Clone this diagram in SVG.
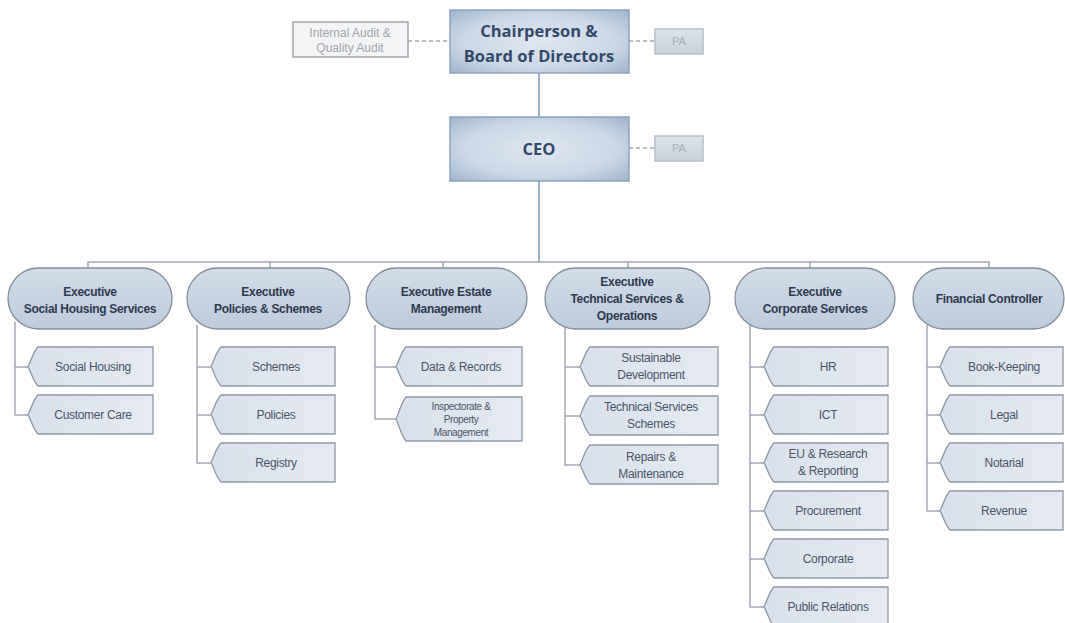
<svg xmlns="http://www.w3.org/2000/svg" width="1065" height="623" viewBox="0 0 1065 623">
<defs>
<radialGradient id="topg" cx="50%" cy="50%" r="70%">
<stop offset="0" stop-color="#dfe8f2"/><stop offset="0.6" stop-color="#cbd8e7"/><stop offset="1" stop-color="#9fb4cd"/>
</radialGradient>
<linearGradient id="pillg" x1="0" y1="0" x2="0" y2="1">
<stop offset="0" stop-color="#d3dde9"/><stop offset="1" stop-color="#bccadb"/>
</linearGradient>
<linearGradient id="subg" x1="0" y1="0" x2="1" y2="0">
<stop offset="0" stop-color="#d9e0eb"/><stop offset="1" stop-color="#e6ebf2"/>
</linearGradient>
<linearGradient id="pag" x1="0" y1="0" x2="0" y2="1">
<stop offset="0" stop-color="#dde3ea"/><stop offset="1" stop-color="#c9d1da"/>
</linearGradient>
</defs>
<style>
.top{fill:url(#topg);stroke:#8ea3bd;stroke-width:1.5}
.tt{font-family:"Open Sans","Liberation Sans",sans-serif;font-weight:bold;font-size:16.5px;fill:#34496a;text-anchor:middle}
.aud{fill:#f3f4f6;stroke:#a3a7ad;stroke-width:1.5}
.at{font-family:"Liberation Sans",sans-serif;font-size:12px;fill:#a2a6ac;text-anchor:middle}
.pa{fill:url(#pag);stroke:#b7bfc8;stroke-width:1.5}
.pat{font-family:"Liberation Sans",sans-serif;font-size:11px;fill:#a8b0ba;text-anchor:middle}
.pill{fill:url(#pillg);stroke:#858e9b;stroke-width:1.3}
.pt{font-family:"Liberation Sans",sans-serif;font-weight:bold;font-size:12px;fill:#2e3a50;text-anchor:middle;letter-spacing:-0.3px}
.sub{fill:url(#subg);stroke:#9099a6;stroke-width:1.3}
.st{font-family:"Liberation Sans",sans-serif;font-size:12px;fill:#4b5568;text-anchor:middle;letter-spacing:-0.3px}
.sts{font-family:"Liberation Sans",sans-serif;font-size:10px;fill:#4b5568;text-anchor:middle;letter-spacing:-0.4px}
.ln{fill:none;stroke:#a1a8b2;stroke-width:1.5}
.bl{fill:none;stroke:#8fa8c8;stroke-width:1.8}
.ds{fill:none;stroke:#a6abb2;stroke-width:1.5;stroke-dasharray:4,3}
</style>
<g id="connectors">
<line class="ds" x1="408" y1="41" x2="450" y2="41"/>
<line class="ds" x1="629" y1="41" x2="655" y2="41"/>
<line class="ds" x1="629" y1="148" x2="655" y2="148"/>
<line class="bl" x1="539" y1="73" x2="539" y2="117"/>
<line class="bl" x1="539" y1="181" x2="539" y2="262"/>
<polyline class="ln" points="88,268 88,262 989,262 989,268"/>
<line class="ln" x1="270" y1="262" x2="270" y2="268"/>
<line class="ln" x1="443" y1="262" x2="443" y2="268"/>
<line class="ln" x1="628" y1="262" x2="628" y2="268"/>
<line class="ln" x1="810" y1="262" x2="810" y2="268"/>
<polyline class="ln" points="15,322 15,415 28,415"/><line class="ln" x1="15" y1="367" x2="28" y2="367"/>
<polyline class="ln" points="197,325 197,463 211,463"/><line class="ln" x1="197" y1="367" x2="211" y2="367"/><line class="ln" x1="197" y1="415" x2="211" y2="415"/>
<polyline class="ln" points="375,325 375,419 396,419"/><line class="ln" x1="375" y1="367" x2="396" y2="367"/>
<polyline class="ln" points="565,325 565,465 580,465"/><line class="ln" x1="565" y1="367" x2="580" y2="367"/><line class="ln" x1="565" y1="416" x2="580" y2="416"/>
<polyline class="ln" points="750,325 750,607 764,607"/><line class="ln" x1="750" y1="367" x2="764" y2="367"/><line class="ln" x1="750" y1="415" x2="764" y2="415"/><line class="ln" x1="750" y1="463" x2="764" y2="463"/><line class="ln" x1="750" y1="511" x2="764" y2="511"/><line class="ln" x1="750" y1="559" x2="764" y2="559"/>
<polyline class="ln" points="927,325 927,511 940,511"/><line class="ln" x1="927" y1="367" x2="940" y2="367"/><line class="ln" x1="927" y1="415" x2="940" y2="415"/><line class="ln" x1="927" y1="463" x2="940" y2="463"/>
</g>
<g id="n-audit"><rect class="aud" x="293" y="22" width="115" height="35"/><text class="at" x="350" y="37">Internal Audit &amp;</text><text class="at" x="350" y="52">Quality Audit</text></g>
<g id="n-chair"><rect class="top" x="450" y="10" width="179" height="63"/><text class="tt" x="539" y="37">Chairperson &amp;</text><text class="tt" x="539" y="62">Board of Directors</text></g>
<g id="n-pa1"><rect class="pa" x="655" y="29" width="48" height="25"/><text class="pat" x="679" y="45">PA</text></g>
<g id="n-ceo"><rect class="top" x="450" y="117" width="179" height="64"/><text class="tt" x="539" y="155">CEO</text></g>
<g id="n-pa2"><rect class="pa" x="655" y="136" width="48" height="25"/><text class="pat" x="679" y="152">PA</text></g>

<g id="n-e1"><rect class="pill" x="8" y="268" width="164" height="61" rx="30.5"/><text class="pt" x="90" y="296">Executive</text><text class="pt" x="90" y="313">Social Housing Services</text></g>
<g id="n-e2"><rect class="pill" x="187" y="268" width="163" height="61" rx="30.5"/><text class="pt" x="268" y="296">Executive</text><text class="pt" x="268" y="313">Policies &amp; Schemes</text></g>
<g id="n-e3"><rect class="pill" x="366" y="268" width="161" height="61" rx="30.5"/><text class="pt" x="446" y="296">Executive Estate</text><text class="pt" x="446" y="313">Management</text></g>
<g id="n-e4"><rect class="pill" x="545" y="268" width="165" height="61" rx="30.5"/><text class="pt" x="627" y="286">Executive</text><text class="pt" x="627" y="303">Technical Services &amp;</text><text class="pt" x="627" y="320">Operations</text></g>
<g id="n-e5"><rect class="pill" x="735" y="268" width="160" height="61" rx="30.5"/><text class="pt" x="815" y="296">Executive</text><text class="pt" x="815" y="313">Corporate Services</text></g>
<g id="n-e6"><rect class="pill" x="913" y="268" width="151" height="61" rx="30.5"/><text class="pt" x="989" y="303">Financial Controller</text></g>

<g id="n-s11"><path class="sub" d="M38,347 H153 V386 H38 C33,381 31,372 28,366.5 C31,361 33,352 38,347 Z"/><text class="st" x="93" y="371">Social Housing</text></g>
<g id="n-s12"><path class="sub" d="M38,395 H153 V434 H38 C33,429 31,420 28,414.5 C31,409 33,400 38,395 Z"/><text class="st" x="93" y="419">Customer Care</text></g>

<g id="n-s21"><path class="sub" d="M221,347 H335 V386 H221 C216,381 214,372 211,366.5 C214,361 216,352 221,347 Z"/><text class="st" x="276" y="371">Schemes</text></g>
<g id="n-s22"><path class="sub" d="M221,395 H335 V434 H221 C216,429 214,420 211,414.5 C214,409 216,400 221,395 Z"/><text class="st" x="276" y="419">Policies</text></g>
<g id="n-s23"><path class="sub" d="M221,443 H335 V482 H221 C216,477 214,468 211,462.5 C214,457 216,448 221,443 Z"/><text class="st" x="276" y="467">Registry</text></g>

<g id="n-s31"><path class="sub" d="M406,347 H522 V386 H406 C401,381 399,372 396,366.5 C399,361 401,352 406,347 Z"/><text class="st" x="461" y="371">Data &amp; Records</text></g>
<g id="n-s32"><path class="sub" d="M406,397 H522 V441 H406 C401,435 399,425 396,419 C399,413 401,403 406,397 Z"/><text class="sts" x="461" y="410">Inspectorate &amp;</text><text class="sts" x="461" y="423">Property</text><text class="sts" x="461" y="436">Management</text></g>

<g id="n-s41"><path class="sub" d="M590,347 H718 V386 H590 C585,381 583,372 580,366.5 C583,361 585,352 590,347 Z"/><text class="st" x="651" y="362">Sustainable</text><text class="st" x="651" y="379">Development</text></g>
<g id="n-s42"><path class="sub" d="M590,396 H718 V435 H590 C585,430 583,421 580,415.5 C583,410 585,401 590,396 Z"/><text class="st" x="651" y="411">Technical Services</text><text class="st" x="651" y="428">Schemes</text></g>
<g id="n-s43"><path class="sub" d="M590,445 H718 V484 H590 C585,479 583,470 580,464.5 C583,459 585,450 590,445 Z"/><text class="st" x="651" y="461">Repairs &amp;</text><text class="st" x="651" y="478">Maintenance</text></g>

<g id="n-s51"><path class="sub" d="M774,347 H888 V386 H774 C769,381 767,372 764,366.5 C767,361 769,352 774,347 Z"/><text class="st" x="828" y="371">HR</text></g>
<g id="n-s52"><path class="sub" d="M774,395 H888 V434 H774 C769,429 767,420 764,414.5 C767,409 769,400 774,395 Z"/><text class="st" x="828" y="419">ICT</text></g>
<g id="n-s53"><path class="sub" d="M774,443 H888 V482 H774 C769,477 767,468 764,462.5 C767,457 769,448 774,443 Z"/><text class="st" x="828" y="458">EU &amp; Research</text><text class="st" x="828" y="475">&amp; Reporting</text></g>
<g id="n-s54"><path class="sub" d="M774,491 H888 V530 H774 C769,525 767,516 764,510.5 C767,505 769,496 774,491 Z"/><text class="st" x="828" y="515">Procurement</text></g>
<g id="n-s55"><path class="sub" d="M774,539 H888 V578 H774 C769,573 767,564 764,558.5 C767,553 769,544 774,539 Z"/><text class="st" x="828" y="563">Corporate</text></g>
<g id="n-s56"><path class="sub" d="M774,587 H888 V626 H774 C769,621 767,612 764,606.5 C767,601 769,592 774,587 Z"/><text class="st" x="828" y="611">Public Relations</text></g>

<g id="n-s61"><path class="sub" d="M950,347 H1063 V386 H950 C945,381 943,372 940,366.5 C943,361 945,352 950,347 Z"/><text class="st" x="1004" y="371">Book-Keeping</text></g>
<g id="n-s62"><path class="sub" d="M950,395 H1063 V434 H950 C945,429 943,420 940,414.5 C943,409 945,400 950,395 Z"/><text class="st" x="1004" y="419">Legal</text></g>
<g id="n-s63"><path class="sub" d="M950,443 H1063 V482 H950 C945,477 943,468 940,462.5 C943,457 945,448 950,443 Z"/><text class="st" x="1004" y="467">Notarial</text></g>
<g id="n-s64"><path class="sub" d="M950,491 H1063 V530 H950 C945,525 943,516 940,510.5 C943,505 945,496 950,491 Z"/><text class="st" x="1004" y="515">Revenue</text></g>
</svg>
